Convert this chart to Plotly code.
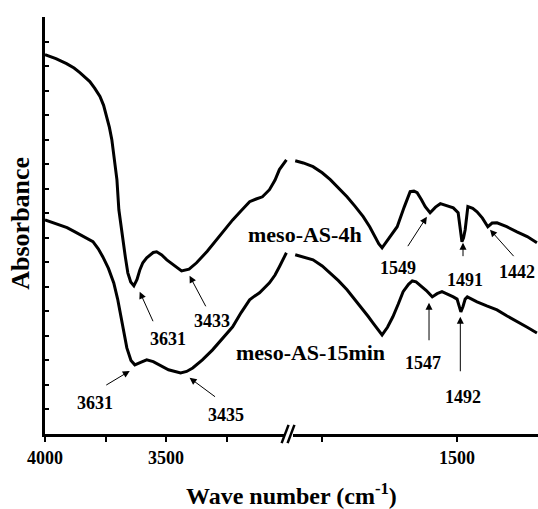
import plotly.graph_objects as go

# ---------------- data (wavenumber cm-1, absorbance a.u.) ----------------
# meso-AS-4h, high-wavenumber segment
wn_4h_hi = [4000, 3955, 3911, 3880, 3856, 3835, 3815, 3795, 3773, 3758, 3745, 3734, 3724,
            3713, 3703, 3695, 3687, 3679, 3668, 3658, 3646, 3633,
            3620, 3608, 3596, 3580, 3567, 3553, 3539, 3518, 3497, 3464, 3436, 3405, 3374,
            3330, 3291, 3258, 3225, 3190, 3155, 3128, 3102, 3073, 3050, 3032, 3003]
ab_4h_hi = [15.47, 15.30, 15.10, 14.92, 14.73, 14.55, 14.37, 14.10, 13.76, 13.40, 12.94,
            12.50, 12.00, 11.20, 10.37, 9.14, 8.50, 7.92, 7.20, 6.57, 6.20, 6.04,
            6.30, 6.70, 6.98, 7.18, 7.27, 7.40, 7.43, 7.30, 7.10, 6.86, 6.65, 6.72, 6.98,
            7.45, 7.92, 8.30, 8.73, 9.10, 9.47, 9.58, 9.67, 9.96, 10.35, 10.78, 11.18]
# meso-AS-4h, low-wavenumber segment
wn_4h_lo = [1800, 1785, 1767, 1750, 1735, 1720, 1704, 1689, 1674, 1662, 1652, 1645, 1639,
            1625, 1611, 1598, 1587, 1580, 1574, 1566, 1559, 1550, 1540, 1531, 1519, 1507,
            1498, 1494, 1491, 1488, 1485, 1480, 1471, 1463, 1453, 1443, 1435, 1426, 1408,
            1389, 1370, 1352]
ab_4h_lo = [11.14, 11.05, 10.90, 10.65, 10.37, 10.05, 9.67, 9.28, 8.86, 8.45, 8.04, 7.75,
            7.59, 8.00, 8.45, 9.25, 9.88, 9.90, 9.84, 9.55, 9.27, 9.02, 9.25, 9.39, 9.30,
            9.22, 9.02, 8.40, 7.84, 8.00, 8.33, 9.27, 9.20, 9.06, 8.80, 8.45, 8.60, 8.61,
            8.45, 8.24, 8.05, 7.80]
# meso-AS-15min, high-wavenumber segment
wn_15_hi = [4000, 3955, 3909, 3880, 3856, 3830, 3802, 3780, 3761, 3738, 3716, 3700, 3687,
            3675, 3662, 3645, 3629, 3605, 3580, 3553, 3526, 3490, 3440, 3415, 3390,
            3350, 3308, 3265, 3225, 3190, 3155, 3135, 3114, 3073, 3050, 3032, 3003]
ab_15_hi = [8.73, 8.58, 8.41, 8.26, 8.12, 7.98, 7.84, 7.55, 7.22, 6.75, 6.16, 5.50, 4.86,
            4.15, 3.51, 3.00, 2.82, 2.92, 3.02, 2.95, 2.82, 2.62, 2.49, 2.55, 2.69,
            3.02, 3.43, 3.90, 4.37, 4.95, 5.47, 5.62, 5.76, 6.16, 6.48, 6.82, 7.39]
# meso-AS-15min, low-wavenumber segment
wn_15_lo = [1800, 1785, 1767, 1750, 1735, 1720, 1704, 1689, 1674, 1665, 1656, 1647, 1639,
            1629, 1619, 1609, 1600, 1590, 1583, 1576, 1569, 1557, 1546, 1537, 1528, 1517,
            1507, 1500, 1496, 1493, 1489, 1485, 1481, 1472, 1463, 1445, 1426, 1408, 1389,
            1370, 1352]
ab_15_lo = [7.31, 7.22, 7.10, 6.85, 6.57, 6.25, 5.88, 5.48, 5.06, 4.80, 4.53, 4.25, 4.04,
            4.35, 4.78, 5.30, 5.80, 6.10, 6.24, 6.20, 6.08, 5.85, 5.59, 5.72, 5.80, 5.70,
            5.59, 5.50, 5.20, 4.98, 5.20, 5.50, 5.59, 5.48, 5.39, 5.22, 5.06, 4.82, 4.57,
            4.35, 4.12]

# peak labels: arrow head (x, y), arrow tail offset (px), label position (x, y)
peak_text  = ["3631", "3433", "3631", "3435", "1549", "1491", "1442", "1547", "1492"]
peak_axis  = ["x", "x", "x", "x", "x2", "x2", "x2", "x2", "x2"]
peak_hx    = [3609, 3403, 3650, 3403, 1556, 1489, 1439, 1552, 1494]
peak_hy    = [5.80, 6.45, 2.57, 2.29, 8.86, 7.80, 8.33, 5.35, 4.78]
peak_dx    = [14, 17, -25, 27, -20, 0, 25, 0, 0]
peak_dy    = [31, 32, 15, 20, 31, 15, 28, 39, 56]
peak_lx    = [3493, 3312, 3794, 3254, 1609, 1485, 1389, 1563, 1489]
peak_ly    = [3.88, 4.61, 1.27, 0.78, 6.78, 6.29, 6.61, 2.90, 1.51]

series_names = ["meso-AS-4h", "meso-AS-15min"]
series_lx = [1782, 1772]
series_ly = [8.15, 3.31]

hi_ticks = [4000, 3750, 3500, 3250]
hi_labels = ["4000", "", "3500", ""]
lo_ticks = [1750, 1500]
lo_labels = ["", "1500"]

# ---------------- figure ----------------
FONT = "Liberation Serif, Times New Roman, serif"
SPLIT = 0.501
LW = 3

fig = go.Figure()
for xs, ys, ax in [(wn_4h_hi, ab_4h_hi, "x"), (wn_15_hi, ab_15_hi, "x"),
                   (wn_4h_lo, ab_4h_lo, "x2"), (wn_15_lo, ab_15_lo, "x2")]:
    fig.add_trace(go.Scatter(x=xs, y=ys, xaxis=ax, yaxis="y", mode="lines",
                             line=dict(color="black", width=LW),
                             showlegend=False, hoverinfo="skip"))

axis_common = dict(showline=True, linecolor="black", linewidth=3, ticks="outside",
                   ticklen=5, tickwidth=2, tickcolor="black", showgrid=False,
                   zeroline=False, mirror=False,
                   tickfont=dict(family=FONT, size=18, color="black", weight="bold"),
                   ticklabelstandoff=0)

fig.update_layout(
    width=538, height=509,
    margin=dict(l=45, r=0, t=17, b=75),
    paper_bgcolor="white", plot_bgcolor="white",
    xaxis=dict(domain=[0, SPLIT], range=[4000, 2980], tickvals=hi_ticks,
               ticktext=hi_labels, anchor="y", **axis_common),
    xaxis2=dict(domain=[SPLIT, 1], range=[1806, 1350], tickvals=lo_ticks,
                ticktext=lo_labels, anchor="y", **axis_common),
    yaxis=dict(range=[0, 17], dtick=1, showline=True, linecolor="black", linewidth=3,
               ticks="inside", ticklen=4, tickwidth=2, tickcolor="black",
               showticklabels=False, showgrid=False, zeroline=False),
)

annotations = []
for t, ax, hx, hy, dx, dy, lx, ly in zip(peak_text, peak_axis, peak_hx, peak_hy,
                                         peak_dx, peak_dy, peak_lx, peak_ly):
    annotations.append(dict(x=hx, y=hy, xref=ax, yref="y", text="", showarrow=True,
                            ax=dx, ay=dy, arrowhead=2, arrowsize=1.4, arrowwidth=1,
                            arrowcolor="black"))
    annotations.append(dict(x=lx, y=ly, xref=ax, yref="y", text=t, showarrow=False,
                            xanchor="center", yanchor="middle",
                            font=dict(family=FONT, size=18, color="black", weight="bold")))
for t, lx, ly in zip(series_names, series_lx, series_ly):
    annotations.append(dict(x=lx, y=ly, xref="x2", yref="y", text=t, showarrow=False,
                            xanchor="center", yanchor="middle",
                            font=dict(family=FONT, size=22, color="black", weight="bold")))

annotations.append(dict(x=0.5, y=-0.145, xref="paper", yref="paper",
                        text="Wave number (cm<sup>-1</sup>)", showarrow=False,
                        xanchor="center", yanchor="middle",
                        font=dict(family=FONT, size=24, color="black", weight="bold")))
annotations.append(dict(x=-0.05, y=0.505, xref="paper", yref="paper",
                        text="Absorbance", showarrow=False, textangle=-90,
                        xanchor="center", yanchor="middle",
                        font=dict(family=FONT, size=26, color="black", weight="bold")))
fig.update_layout(annotations=annotations)

# axis break marks "//"
shapes = [dict(type="rect", xref="paper", yref="paper", x0=SPLIT - 0.016, x1=SPLIT + 0.002,
               y0=-0.012, y1=0.012, fillcolor="white", line=dict(width=0), layer="above")]
for off in (-0.014, -0.002):
    shapes.append(dict(type="line", xref="paper", yref="paper",
                       x0=SPLIT + off - 0.007, x1=SPLIT + off + 0.007,
                       y0=-0.022, y1=0.022, line=dict(color="black", width=2.5),
                       layer="above"))
fig.update_layout(shapes=shapes)

fig.write_html("out.html")
